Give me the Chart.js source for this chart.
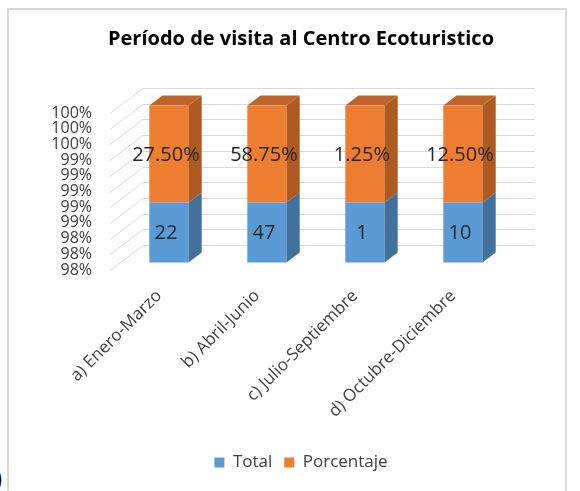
<!DOCTYPE html>
<html>
<head>
<meta charset="utf-8">
<script src="https://cdn.jsdelivr.net/npm/chart.js@4"></script>
<style>
  body { margin: 0; background: #fff; }
  #wrap { position: relative; width: 580px; height: 491px; overflow: hidden; }
  #frame { position: absolute; left: 7px; top: 8px; width: 556px; height: 520px; border: 2px solid #d9d9d9; }
  #chart { position: absolute; left: 0; top: 0; }
  #paren { position: absolute; left: -6px; top: 458px; font: 28px "Open Sans"; color: #000; }
</style>
</head>
<body>
<div id="wrap">
  <div id="frame"></div>
  <div id="paren">)</div>
  <canvas id="chart" width="580" height="491"></canvas>
</div>
<script>
// Período de visita
const periodos = ['a) Enero-Marzo', 'b) Abril-Junio', 'c) Julio-Septiembre', 'd) Octubre-Diciembre'];
const totales = [22, 47, 1, 10];
const porcentajes = [0.275, 0.5875, 0.0125, 0.125];
const porcentajeLabels = ['27.50%', '58.75%', '1.25%', '12.50%'];

// Excel apila al 100%: cada serie como parte de (total + porcentaje)
const totalShare = totales.map((v, i) => v / (v + porcentajes[i]) * 100);
const pctShare = porcentajes.map((v, i) => v / (totales[i] + porcentajes[i]) * 100);

const WALL = { dx: 33, dy: -25 };     // fondo de la pared 3D
const FRONT = 0.3, BACK = 0.7;        // posicion de las columnas dentro del fondo

const shade3d = {
    id: 'shade3d',
    beforeDatasetsDraw(chart) {
        const ctx = chart.ctx;
        const area = chart.chartArea;
        const y = chart.scales.y;
        // pared lateral y pared del fondo
        ctx.save();
        ctx.strokeStyle = '#d9d9d9';
        ctx.lineWidth = 1;
        y.ticks.forEach(t => {
            const py = Math.round(y.getPixelForValue(t.value)) + 0.5;
            ctx.beginPath();
            ctx.moveTo(area.left, py);
            ctx.lineTo(area.left + WALL.dx, py + WALL.dy);
            ctx.lineTo(area.right + WALL.dx, py + WALL.dy);
            ctx.stroke();
        });
        ctx.restore();
        // las columnas se dibujan un poco hacia el fondo
        ctx.save();
        ctx.translate(WALL.dx * FRONT, WALL.dy * FRONT);
    },
    afterDatasetsDraw(chart) {
        const ctx = chart.ctx;
        const area = chart.chartArea;
        const ddx = WALL.dx * (BACK - FRONT), ddy = WALL.dy * (BACK - FRONT);
        const sides = ['#41719c', '#ae5a21'];
        const tops = ['#4e86b8', '#c0632a'];
        chart.data.datasets.forEach((ds, di) => {
            const meta = chart.getDatasetMeta(di);
            meta.data.forEach((bar, i) => {
                const p = bar.getProps(['x', 'y', 'base', 'width'], true);
                const l = p.x - p.width / 2, r = p.x + p.width / 2;
                const top = Math.max(p.y, area.top);
                const bot = Math.min(p.base, area.bottom);
                ctx.fillStyle = sides[di];
                ctx.beginPath();
                ctx.moveTo(r, top);
                ctx.lineTo(r + ddx, top + ddy);
                ctx.lineTo(r + ddx, bot + ddy);
                ctx.lineTo(r, bot);
                ctx.closePath();
                ctx.fill();
                if (di === chart.data.datasets.length - 1) {
                    ctx.fillStyle = tops[di];
                    ctx.beginPath();
                    ctx.moveTo(l, top);
                    ctx.lineTo(l + ddx, top + ddy);
                    ctx.lineTo(r + ddx, top + ddy);
                    ctx.lineTo(r, top);
                    ctx.closePath();
                    ctx.fill();
                }
                // etiqueta de datos en la cara frontal
                const text = di === 0 ? String(totales[i]) : porcentajeLabels[i];
                ctx.fillStyle = '#262626';
                ctx.font = '20px "Open Sans"';
                ctx.textAlign = 'center';
                ctx.textBaseline = 'middle';
                ctx.fillText(text, p.x - 3, (top + bot) / 2 + 1);
            });
        });
        ctx.restore();
    }
};

const ctx = document.getElementById('chart').getContext('2d');
const chart = new Chart(ctx, {
    type: 'bar',
    data: {
        labels: periodos,
        datasets: [{
            label: 'Total',
            data: totalShare,
            backgroundColor: '#5b9bd5',
            categoryPercentage: 0.8,
            barPercentage: 0.5
        }, {
            label: 'Porcentaje',
            data: pctShare,
            backgroundColor: '#ed7d31',
            categoryPercentage: 0.8,
            barPercentage: 0.5
        }]
    },
    options: {
        responsive: false,
        animation: false,
        layout: { padding: { left: 22, right: 0, top: 0, bottom: 10 } },
        plugins: {
            title: {
                display: true,
                text: 'Período de visita al Centro Ecoturistico',
                color: '#000',
                font: { family: 'Open Sans', size: 20, weight: 'bold' },
                padding: { top: 27, bottom: 62 }
            },
            legend: {
                position: 'bottom',
                labels: {
                    color: '#404040',
                    font: { family: 'Open Sans', size: 17 },
                    boxWidth: 10,
                    boxHeight: 10,
                    padding: 12
                }
            },
            tooltip: { enabled: false }
        },
        scales: {
            x: {
                stacked: true,
                grid: { display: false },
                border: { display: false },
                ticks: {
                    color: '#404040',
                    font: { family: 'Open Sans', size: 17 },
                    minRotation: 45,
                    maxRotation: 45,
                    padding: 8
                },
                afterFit(s) { s.height = 172; }
            },
            y: {
                stacked: true,
                min: 98,
                max: 100,
                grid: { display: false, drawTicks: false },
                border: { display: false },
                ticks: {
                    stepSize: 0.2,
                    autoSkip: false,
                    padding: 18,
                    color: '#404040',
                    font: { family: 'Open Sans', size: 16 },
                    callback: v => Math.round(v) + '%'
                },
                afterFit(s) { s.width = 88; }
            },
            yr: {
                position: 'right',
                grid: { display: false },
                border: { display: false },
                ticks: { display: false },
                afterFit(s) { s.width = 78; }
            }
        }
    },
    plugins: [shade3d]
});
</script>
</body>
</html>
